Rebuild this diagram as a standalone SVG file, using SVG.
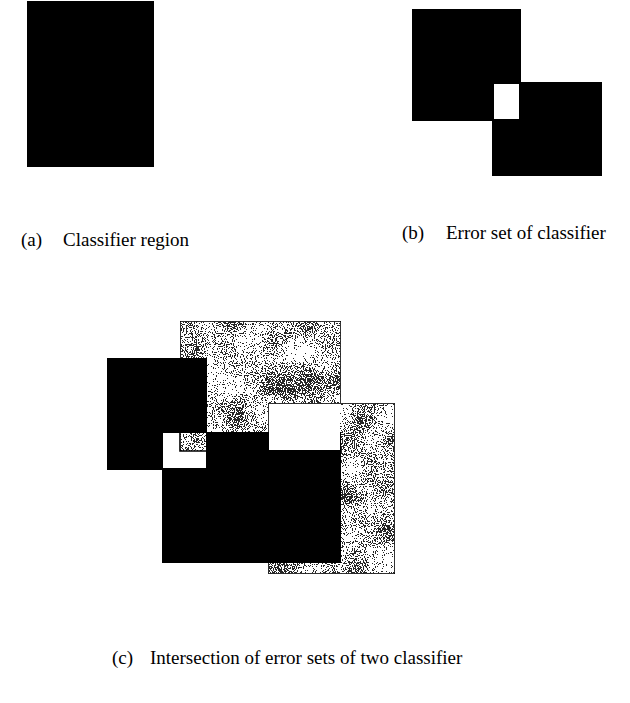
<svg xmlns="http://www.w3.org/2000/svg" width="630" height="703" viewBox="0 0 630 703">
<style>
.blk{fill:#000;stroke:none}
.wht{fill:#fff;stroke:none}
.gry{fill:#fff;stroke:#000;stroke-width:1.6}
.edge{fill:none;stroke:#000;stroke-width:1.6}
.cap{font-family:"Liberation Serif","Times New Roman",serif;font-size:19px;fill:#000}
</style>
<defs>
<filter id="spk" x="0" y="0" width="1" height="1" color-interpolation-filters="sRGB">
<feTurbulence type="fractalNoise" baseFrequency="0.9" numOctaves="1" seed="3" result="f"/>
<feTurbulence type="fractalNoise" baseFrequency="0.03" numOctaves="2" seed="5" result="c"/>
<feColorMatrix in="f" type="matrix" values="1 0 0 0 0  1 0 0 0 0  1 0 0 0 0  0 0 0 0 1" result="f1"/>
<feColorMatrix in="c" type="matrix" values="1 0 0 0 0  1 0 0 0 0  1 0 0 0 0  0 0 0 0 1" result="c1"/>
<feComposite in="f1" in2="c1" operator="arithmetic" k1="0" k2="0.8" k3="0.35" k4="-0.07" result="s"/>
<feColorMatrix in="s" type="matrix" values="0 0 0 0 0.15  0 0 0 0 0.15  0 0 0 0 0.15  1 0 0 0 0" result="a"/>
<feComponentTransfer in="a" result="t"><feFuncA type="discrete" tableValues="0 0 0 0 0 0 0 0 0 0 0 1 1 1 1 1 1 1 1 1"/></feComponentTransfer>
<feComposite in="t" in2="SourceAlpha" operator="in" result="d"/>
<feMerge><feMergeNode in="SourceGraphic"/><feMergeNode in="d"/></feMerge>
</filter>
</defs>
<rect width="630" height="703" fill="#fff"/>

<g id="panel-a">
<rect class="blk" x="27" y="1" width="127" height="166"/>
<text class="cap" x="21" y="246">(a)</text>
<text class="cap" x="63" y="246">Classifier region</text>
</g>

<g id="panel-b">
<rect class="blk" x="412" y="9" width="109" height="112"/>
<rect class="blk" x="492" y="82" width="110" height="94"/>
<rect class="wht" x="494" y="84" width="25" height="35"/>
<text class="cap" x="402" y="239">(b)</text>
<text class="cap" x="446" y="239">Error set of classifier</text>
</g>

<g id="panel-c">
<rect id="c-gray-A" class="gry" x="180" y="321" width="161" height="130" filter="url(#spk)"/>
<rect id="c-gray-B" class="gry" x="268" y="403" width="127" height="171" filter="url(#spk)"/>
<rect id="c-black-L" class="blk" x="107" y="358" width="100" height="112"/>
<rect id="c-black-M" class="blk" x="162" y="432" width="179" height="131"/>
<rect class="wht" x="163" y="433" width="43" height="35"/>
<rect x="180" y="433" width="26" height="18" fill="#fff" filter="url(#spk)"/>
<path class="edge" d="M180,433 V451 H206"/>
<rect class="wht" x="269" y="404" width="71" height="46"/>
<text class="cap" x="112" y="664">(c)</text>
<text class="cap" x="150" y="664">Intersection of error sets of two classifier</text>
</g>
</svg>
